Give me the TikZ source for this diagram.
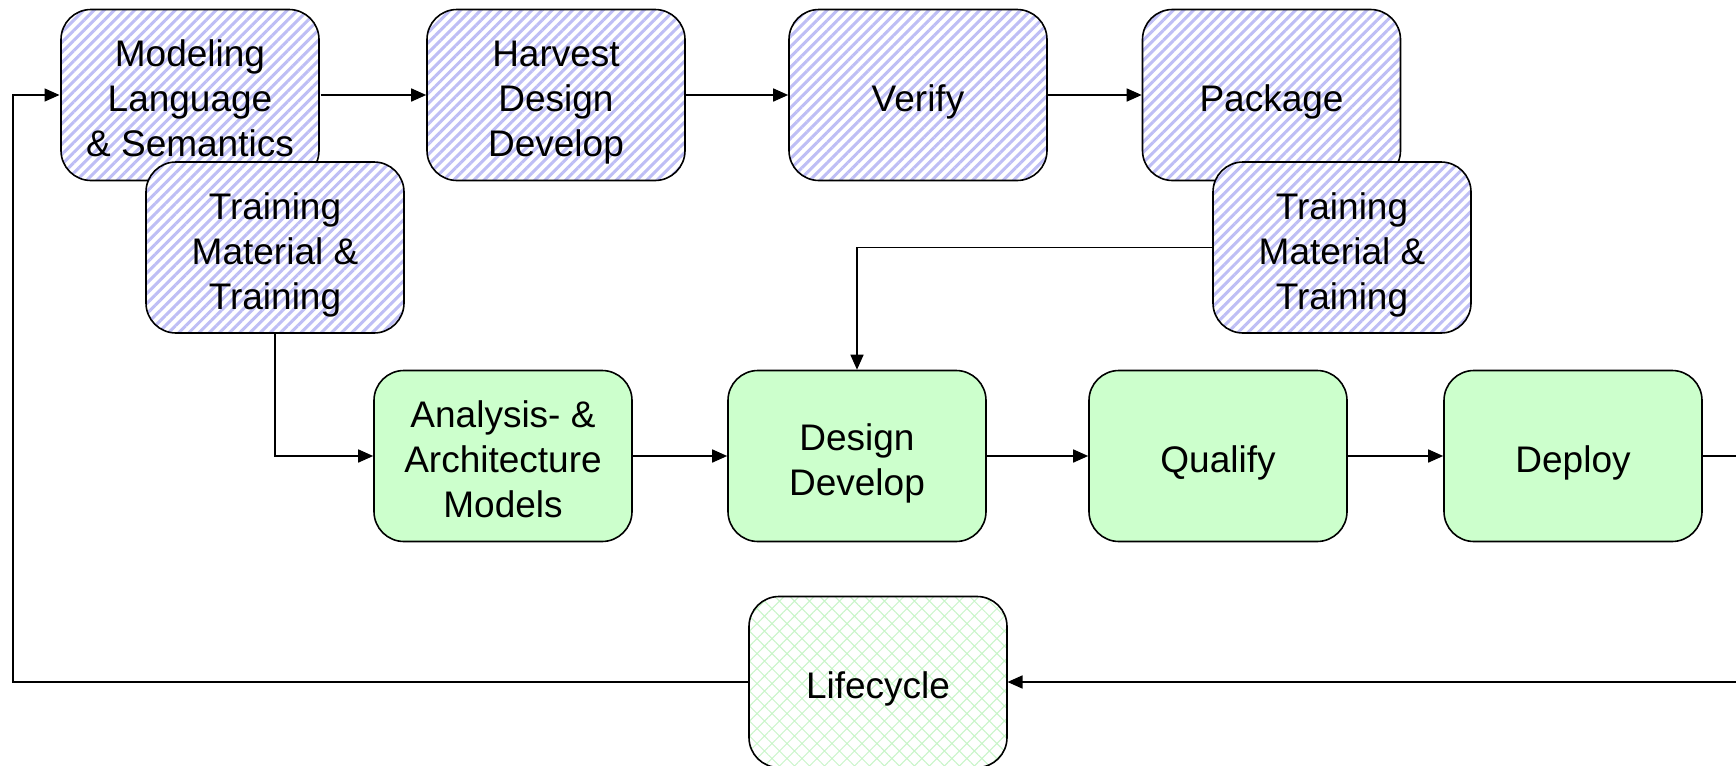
\documentclass[tikz,border=0pt]{standalone}
\usepackage{fontspec}
\setmainfont{Liberation Sans}
\usetikzlibrary{arrows.meta,patterns.meta}
\definecolor{stripeblue}{RGB}{190,190,245}
\definecolor{stepgreen}{RGB}{204,255,204}
\definecolor{hatchgreen}{RGB}{200,245,200}
% lines of a box, with equal room above and below
\newcommand{\boxtext}[1]{\begin{tabular}{@{}c@{}}\rule{0pt}{23.4pt}#1\rule[-6.75pt]{0pt}{6.75pt}\end{tabular}}
\begin{document}
\begin{tikzpicture}[x=0.5pt,y=-0.5pt]

    \tikzset{
      box/.style={
        draw,
        line width=0.8pt,
        rounded corners=15pt,
        minimum width=129pt,
        minimum height=85.5pt,
        inner sep=0pt,
        font=\fontsize{18.5}{22.5}\selectfont,
      },
      tool/.style={
        box,
        preaction={fill=white},
        pattern={Lines[angle=45,distance=3.6pt,line width=1.5pt]},
        pattern color=stripeblue,
      },
      stage/.style={
        box,
        fill=stepgreen,
      },
      cycle/.style={
        box,
        preaction={fill=white},
        pattern={Hatch[angle=45,distance=5.3pt,line width=0.5pt]},
        pattern color=hatchgreen,
      },
      flow/.style={
        line width=0.8pt,
        -{Triangle[length=7.5pt,width=6.5pt]},
      },
    }
    \clip (0,0) rectangle (1736,766);

	% top row: tools
	\node[tool] (model) at (190,95) {\boxtext{Modeling\\Language\\\& Semantics}};
	\node[tool] (train1) at (275,247.5) {\boxtext{Training\\Material \&\\Training}};
	\node[tool] (harvest) at (556,95) {\boxtext{Harvest\\Design\\Develop}};
	\node[tool] (verify) at (918,95) {\boxtext{Verify}};
	\node[tool] (package) at (1271.5,95) {\boxtext{Package}};
	\node[tool] (train2) at (1342,247.5) {\boxtext{Training\\Material \&\\Training}};

	% middle row: stages
	\node[stage] (analysis) at (503,456) {\boxtext{Analysis- \&\\Architecture\\Models}};
	\node[stage] (design) at (857,456) {\boxtext{Design\\Develop}};
	\node[stage] (qualify) at (1218,456) {\boxtext{Qualify}};
	\node[stage] (deploy) at (1573,456) {\boxtext{Deploy}};

	% bottom
	\node[cycle] (life) at (878,682) {\boxtext{Lifecycle}};

	\coordinate (rtop) at (1760,456);
	\coordinate (rbot) at (1760,682);
	\coordinate (lbot) at (13,682);

	\draw[flow] (model) -- (harvest);
	\draw[flow] (harvest) -- (verify);
	\draw[flow] (verify) -- (package);
	\draw[flow] (train1.south) |- (analysis.west);
	\draw[flow] (train2.west) -| (design.north);
	\draw[flow] (analysis) -- (design);
	\draw[flow] (design) -- (qualify);
	\draw[flow] (qualify) -- (deploy);
	\draw[flow] (deploy.east) -- (rtop) -- (rbot) -- (life.east);
	\draw[flow] (life.west) -- (lbot) |- (model.west);

\end{tikzpicture}
\end{document}
